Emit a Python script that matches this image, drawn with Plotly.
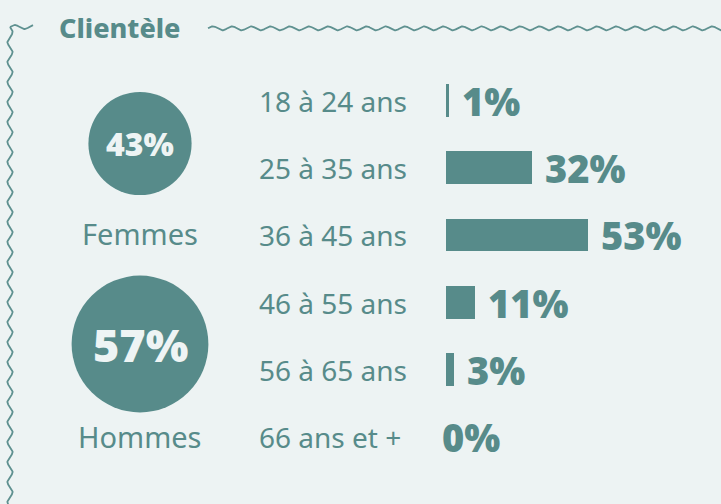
import numpy as np
import plotly.graph_objects as go

# ---- data ----
age_groups = ["18 à 24 ans", "25 à 35 ans", "36 à 45 ans", "46 à 55 ans", "56 à 65 ans", "66 ans et +"]
age_share = [1, 32, 53, 11, 3, 0]
genders = ["Femmes", "Hommes"]
gender_share = [43, 57]
title_text = "Clientèle"

# ---- style ----
W, H = 721, 504
BG = "#edf3f3"
TEAL = "#578b8a"
LIGHT = "#eef4f4"
FONT = "Noto Sans"

fig = go.Figure()

# bars (main axes)
ypos = list(range(len(age_groups)))
fig.add_trace(go.Bar(
    x=age_share, y=ypos, orientation="h",
    marker=dict(color=TEAL, line=dict(width=0)),
    width=0.49, hoverinfo="skip", showlegend=False,
    xaxis="x", yaxis="y",
))

# decorative wavy frame on pixel overlay axes
def wave_h(x0, x1, yc, amp, period):
    xs = np.linspace(x0, x1, int((x1 - x0) * 2) + 2)
    return xs, yc - amp * np.sin(2 * np.pi * (xs - x0) / period)

def wave_v(y0, y1, xc, amp, period):
    ys = np.linspace(y0, y1, int((y1 - y0) * 2) + 2)
    return xc + amp * np.sin(2 * np.pi * (ys - y0) / period), ys

line_style = dict(color="#5f9190", width=1.8)
wx, wy = wave_h(208, 725, 28.3, 2.0, 19.2)
fig.add_trace(go.Scatter(x=wx, y=wy, mode="lines", line=line_style, hoverinfo="skip",
                         showlegend=False, xaxis="x2", yaxis="y2"))
wx, wy = wave_h(10, 33, 27, 2.0, 19.2)
fig.add_trace(go.Scatter(x=wx, y=wy, mode="lines", line=line_style, hoverinfo="skip",
                         showlegend=False, xaxis="x2", yaxis="y2"))
wx, wy = wave_v(27, 510, 10, 2.6, 20)
fig.add_trace(go.Scatter(x=wx, y=wy, mode="lines", line=line_style, hoverinfo="skip",
                         showlegend=False, xaxis="x2", yaxis="y2"))

# gender circles (diameter proportional to share)
circle_x = [140, 140]
circle_y = [143.5, 344]
fig.add_trace(go.Scatter(
    x=circle_x, y=circle_y, mode="markers",
    marker=dict(size=[v * 2.4 for v in gender_share], color=TEAL, opacity=1, line=dict(width=0)),
    hoverinfo="skip", showlegend=False, xaxis="x2", yaxis="y2",
))

annotations = []
# circle texts
for cx, cy, v, g, fs in zip(circle_x, circle_y, gender_share, genders, [32, 45]):
    annotations.append(dict(x=cx, y=cy, xref="x2", yref="y2", text=f"{v}%",
                            showarrow=False,
                            font=dict(family=FONT, size=fs, color=LIGHT, weight=900),
                            xanchor="center", yanchor="middle"))
label_y = [233, 436]
for cx, ly, g in zip(circle_x, label_y, genders):
    annotations.append(dict(x=cx, y=ly, xref="x2", yref="y2", text=g, showarrow=False,
                            font=dict(family=FONT, size=29, color=TEAL),
                            xanchor="center", yanchor="middle"))

# age labels
for i, lab in enumerate(age_groups):
    annotations.append(dict(x=257 / W, y=i, xref="paper", yref="y", text=lab, showarrow=False,
                            font=dict(family=FONT, size=28, color=TEAL),
                            xanchor="left", yanchor="middle"))
# value labels
for i, v in enumerate(age_share):
    annotations.append(dict(x=v, y=i, xref="x", yref="y", text=f"{v}%", showarrow=False,
                            font=dict(family=FONT, size=38, color=TEAL, weight=900),
                            xanchor="left", yanchor="middle",
                            xshift=(11 if v > 0 else -6)))
# title
annotations.append(dict(x=57, y=27, xref="x2", yref="y2", text=title_text,
                        showarrow=False, font=dict(family=FONT, size=27, color=TEAL, weight=800),
                        xanchor="left", yanchor="middle"))

row_px = 67.2
top_px = 101 - row_px / 2
bot_px = 437 + row_px / 2
fig.update_layout(
    width=W, height=H,
    margin=dict(l=0, r=0, t=0, b=0),
    paper_bgcolor=BG, plot_bgcolor="rgba(0,0,0,0)",
    bargap=0,
    xaxis=dict(domain=[446 / W, 1], range=[0, (W - 446) / 2.68], visible=False,
               fixedrange=True, anchor="y"),
    yaxis=dict(domain=[1 - bot_px / H, 1 - top_px / H], range=[len(age_groups) - 0.5, -0.5],
               visible=False, fixedrange=True, anchor="x"),
    xaxis2=dict(domain=[0, 1], range=[0, W], visible=False, fixedrange=True, anchor="y2"),
    yaxis2=dict(domain=[0, 1], range=[H, 0], visible=False, fixedrange=True, anchor="x2"),
    annotations=annotations,
    showlegend=False,
)

fig.write_html("out.html", config={"displayModeBar": False},
               post_script="document.body.style.margin='0px';")
